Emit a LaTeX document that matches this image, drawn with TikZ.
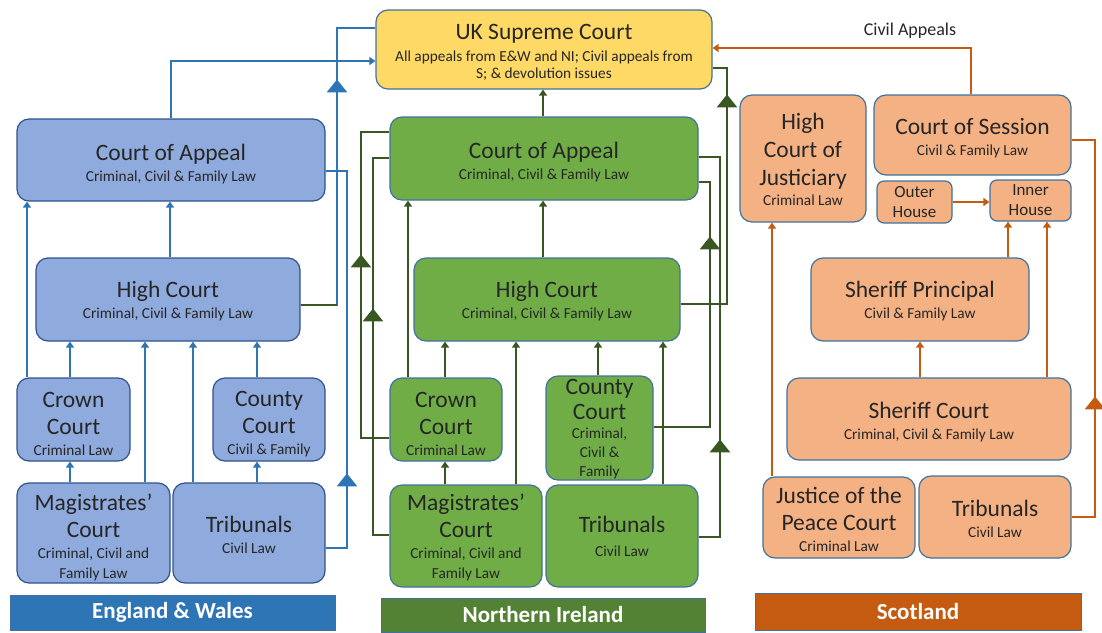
\documentclass[tikz,border=0pt]{standalone}
\usepackage{fontspec}
\setmainfont{Carlito}
\usetikzlibrary{arrows.meta,decorations.markings}

\definecolor{ewfill}{HTML}{8FAADC}
\definecolor{ewline}{HTML}{2E75B6}
\definecolor{ewedge}{HTML}{2F528F}
\definecolor{nifill}{HTML}{70AD47}
\definecolor{niline}{HTML}{385723}
\definecolor{niflag}{HTML}{548235}
\definecolor{scfill}{HTML}{F4B183}
\definecolor{scline}{HTML}{C55A11}
\definecolor{ukfill}{HTML}{FFD966}
\definecolor{edge}{HTML}{41719C}
\definecolor{ink}{HTML}{262626}

\newcommand{\ttl}{\fontsize{23.5}{27}\selectfont}
\newcommand{\sbt}{\fontsize{15.3}{17}\selectfont}
\newcommand{\hse}{\fontsize{17}{20}\selectfont}
\newcommand{\lift}[1]{\rule{0pt}{#1pt}}

\tikzset{
	court/.style={draw=edge, line width=1.2pt, rounded corners=12pt, align=center, inner sep=0pt, text=ink, font=\ttl},
	ewcourt/.style={court, fill=ewfill, draw=ewedge},
	nicourt/.style={court, fill=nifill},
	sccourt/.style={court, fill=scfill},
	banner/.style={draw=edge, line width=0.8pt, inner sep=0pt, text=white, font=\fontsize{23}{26}\selectfont\bfseries},
	appeal/.style={line width=2.6pt, -{Triangle[width=8pt,length=6pt]}},
	detour/.style={line width=2.6pt, postaction={decorate}, decoration={markings, mark=at position #1pt with {\arrow{Triangle[width=20pt,length=13pt]}}}},
}

\begin{document}
\begin{tikzpicture}[x=1pt, y=-1pt]
		%%%%% START %%%%%
		\useasboundingbox (0,0) rectangle (1102,632);
		
		\node[court, fill=ukfill, minimum width=336pt, minimum height=79pt] (ukcourt) at (544,49.5) {\lift{20}UK Supreme Court\\[-5pt]\sbt All appeals from E\&W and NI; Civil appeals from\\[-10pt]\sbt S; \& devolution issues};
		
		% England & Wales
		\node[ewcourt, minimum width=308pt, minimum height=82pt] (ewca) at (171,160) {\lift{25}Court of Appeal\\[-6pt]\sbt Criminal, Civil \& Family Law};
		\node[ewcourt, minimum width=264pt, minimum height=83pt] (ewhc) at (168,299.5) {\lift{20}High Court\\[-6pt]\sbt Criminal, Civil \& Family Law};
		\node[ewcourt, minimum width=113pt, minimum height=83pt] (ewcrown) at (73.5,419.5) {\lift{24}Crown\\Court\\[-6pt]\sbt Criminal Law};
		\node[ewcourt, minimum width=112pt, minimum height=83pt] (ewcounty) at (269,419.5) {\lift{25}County\\Court\\[-6pt]\sbt Civil \& Family};
		\node[ewcourt, minimum width=153pt, minimum height=100pt] (ewmag) at (93.5,533) {\lift{26}Magistrates’\\Court\\[-6pt]\sbt Criminal, Civil and\\[-7pt]\sbt Family Law};
		\node[ewcourt, minimum width=152pt, minimum height=100pt] (ewtrib) at (249,533) {\lift{21}Tribunals\\[-6pt]\sbt Civil Law};
		\node[banner, fill=ewline, minimum width=325pt, minimum height=35pt] (ewband) at (172.5,612.5) {England \& Wales};
		
		\draw[ewline, appeal] (ewca.north) |- (ukcourt.west |- 0,61);
		\draw[ewline, detour=262] (ewhc.east |- 0,305) -| (337,28) -- (ukcourt.west |- 0,28);
		\draw[niline, line width=2.6pt] (ewhc.east |- 0,305) -- (337,305);
		\draw[ewline, detour=96] (ewtrib.east |- 0,548) -| (347,171) -- (ewca.east |- 0,171);
		\draw[ewline, appeal] (ewcrown.north -| 27,0) -- (ewca.south -| 27,0);
		\draw[ewline, appeal] (ewhc.north -| 170,0) -- (ewca.south -| 170,0);
		\draw[ewline, appeal] (ewcrown.north -| 70,0) -- (ewhc.south -| 70,0);
		\draw[ewline, appeal] (ewmag.north -| 70,0) -- (ewcrown.south -| 70,0);
		\draw[ewline, appeal] (ewmag.north -| 145,0) -- (ewhc.south -| 145,0);
		\draw[ewline, appeal] (ewtrib.north -| 193,0) -- (ewhc.south -| 193,0);
		\draw[ewline, appeal] (ewcounty.north -| 257,0) -- (ewhc.south -| 257,0);
		\draw[ewline, appeal] (ewtrib.north -| 257,0) -- (ewcounty.south -| 257,0);
		
		% Northern Ireland
		\node[nicourt, minimum width=308pt, minimum height=83pt] (nica) at (544,158.5) {\lift{24}Court of Appeal\\[-6pt]\sbt Criminal, Civil \& Family Law};
		\node[nicourt, minimum width=266pt, minimum height=83pt] (nihc) at (547,299.5) {\lift{20}High Court\\[-6pt]\sbt Criminal, Civil \& Family Law};
		\node[nicourt, minimum width=112pt, minimum height=83pt] (nicrown) at (446,419.5) {\lift{24}Crown\\Court\\[-6pt]\sbt Criminal Law};
		\node[nicourt, minimum width=107pt, minimum height=104pt] (nicounty) at (599.5,428) {\lift{18}County\\[-2pt]Court\\[-8pt]\sbt Criminal,\\[-8pt]\sbt Civil \&\\[-8pt]\sbt Family};
		\node[nicourt, minimum width=152pt, minimum height=102pt] (nimag) at (466,536) {\lift{20}Magistrates’\\Court\\[-6pt]\sbt Criminal, Civil and\\[-7pt]\sbt Family Law};
		\node[nicourt, minimum width=152pt, minimum height=102pt] (nitrib) at (622,536) {\lift{18}Tribunals\\[-3pt]\sbt Civil Law};
		\node[banner, fill=niflag, minimum width=324pt, minimum height=34pt] (niband) at (543,615) {Northern Ireland};
		
		\draw[niline, appeal] (nica.north -| 543,0) -- (ukcourt.south -| 543,0);
		\draw[niline, appeal] (nihc.north -| 543,0) -- (nica.south -| 543,0);
		\draw[niline, detour=256] (nihc.east |- 0,304) -| (727,68) -- (ukcourt.east |- 0,68);
		\draw[niline, detour=119] (nitrib.east |- 0,537) -| (720,157) -- (nica.east |- 0,157);
		\draw[niline, detour=247] (nicounty.east |- 0,427) -| (710,182) -- (nica.east |- 0,182);
		\draw[niline, appeal] (nitrib.north -| 663,0) -- (nihc.south -| 663,0);
		\draw[niline, appeal] (nicounty.north -| 598,0) -- (nihc.south -| 598,0);
		\draw[niline, appeal] (nimag.north -| 516,0) -- (nihc.south -| 516,0);
		\draw[niline, appeal] (nicrown.north -| 445,0) -- (nihc.south -| 445,0);
		\draw[niline, appeal] (nimag.north -| 445,0) -- (nicrown.south -| 445,0);
		\draw[niline, appeal] (nicrown.north -| 408,0) -- (nica.south -| 408,0);
		\draw[niline, detour=212] (nicrown.west |- 0,438) -| (361,132) -- (nica.west |- 0,132);
		\draw[niline, detour=243] (nimag.west |- 0,535) -| (373,158) -- (nica.west |- 0,158);
		
		% Scotland
		\node[sccourt, minimum width=126pt, minimum height=127pt] (schcj) at (803,158.5) {\lift{18}High\\[1pt]Court of\\[1pt]Justiciary\\[-7pt]\sbt Criminal Law};
		\node[sccourt, minimum width=197pt, minimum height=80pt] (sccs) at (972.5,135) {\lift{22}Court of Session\\[-6pt]\sbt Civil \& Family Law};
		\node[sccourt, rounded corners=7pt, font=\hse, minimum width=75pt, minimum height=42pt] (scouter) at (914.5,202) {Outer\\House};
		\node[sccourt, rounded corners=7pt, font=\hse, minimum width=81pt, minimum height=41pt] (scinner) at (1030.5,200.5) {Inner\\House};
		\node[sccourt, minimum width=218pt, minimum height=83pt] (scsp) at (920,299.5) {\lift{20}Sheriff Principal\\[-6pt]\sbt Civil \& Family Law};
		\node[sccourt, minimum width=284pt, minimum height=82pt] (scsc) at (929,419) {\lift{23}Sheriff Court\\[-6pt]\sbt Criminal, Civil \& Family Law};
		\node[sccourt, minimum width=152pt, minimum height=81pt] (scjp) at (839,517.5) {\lift{20}Justice of the\\Peace Court\\[-6pt]\sbt Criminal Law};
		\node[sccourt, minimum width=152pt, minimum height=82pt] (sctrib) at (995,517) {\lift{20}Tribunals\\[-6pt]\sbt Civil Law};
		\node[banner, fill=scline, minimum width=326pt, minimum height=37pt] (scband) at (918,611.5) {Scotland};
		
		\node[text=ink, font=\fontsize{18}{20}\selectfont] (civil) at (910,31) {Civil Appeals};
		\draw[scline, appeal] (sccs.north -| 971,0) |- (ukcourt.east |- 0,48);
		\draw[scline, appeal] (scouter.east) -- (scinner.west |- scouter.east);
		\draw[scline, appeal] (scsp.north -| 1008,0) -- (scinner.south -| 1008,0);
		\draw[scline, appeal] (scsc.north -| 1047,0) -- (scinner.south -| 1047,0);
		\draw[scline, appeal] (scsc.north -| 920,0) -- (scsp.south -| 920,0);
		\draw[scline, appeal] (scjp.north -| 772,0) -- (schcj.south -| 772,0);
		\draw[scline, detour=144] (sctrib.east |- 0,517) -| (1095,140) -- (sccs.east |- 0,140);
		
		%%%%% END %%%%%
\end{tikzpicture}
\end{document}
